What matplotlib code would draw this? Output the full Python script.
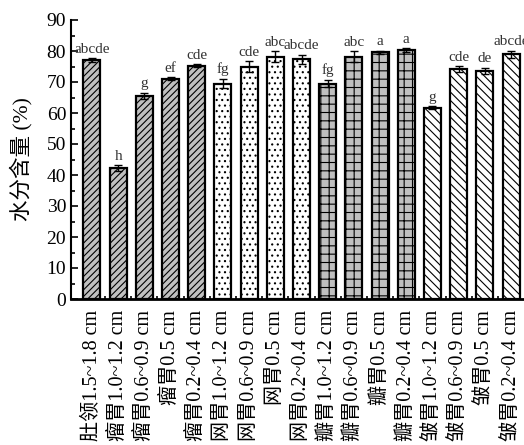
import matplotlib
matplotlib.use('Agg')
import matplotlib.pyplot as plt
import numpy as np

plt.rcParams['font.family'] = ['Liberation Serif', 'Noto Sans CJK SC']
plt.rcParams['hatch.linewidth'] = 0.8

labels = ['肚领1.5~1.8 cm', '瘤胃1.0~1.2 cm', '瘤胃0.6~0.9 cm', '瘤胃0.5 cm', '瘤胃0.2~0.4 cm',
          '网胃1.0~1.2 cm', '网胃0.6~0.9 cm', '网胃0.5 cm', '网胃0.2~0.4 cm',
          '瓣胃1.0~1.2 cm', '瓣胃0.6~0.9 cm', '瓣胃0.5 cm', '瓣胃0.2~0.4 cm',
          '皱胃1.0~1.2 cm', '皱胃0.6~0.9 cm', '皱胃0.5 cm', '皱胃0.2~0.4 cm']
values = [77.1, 42.2, 65.6, 71.1, 75.2,
          69.5, 74.9, 78.1, 77.3,
          69.5, 78.1, 79.6, 80.3,
          61.7, 74.1, 73.6, 78.9]
errors = [0.5, 1.0, 1.0, 0.5, 0.5,
          1.5, 1.8, 1.8, 1.5,
          1.2, 1.8, 0.5, 0.6,
          0.5, 1.0, 1.0, 1.2]
letters = ['abcde', 'h', 'g', 'ef', 'cde',
           'fg', 'cde', 'abc', 'abcde',
           'fg', 'abc', 'a', 'a',
           'g', 'cde', 'de', 'abcde']
group_sizes = [5, 4, 4, 4]
group_fill = ['#c0c0c0', 'white', '#c0c0c0', 'white']
group_hatch = ['/////', '...', '++', '\\\\\\\\']

fills = []
hatches = []
for size, fc, h in zip(group_sizes, group_fill, group_hatch):
    fills += [fc] * size
    hatches += [h] * size

x = np.arange(len(values))

fig = plt.figure(figsize=(5.24, 4.45), dpi=100)
ax = fig.add_axes([71/524, 146/445, (532-71)/524, (299-20)/445])

for i in range(len(values)):
    ax.bar(x[i], values[i], width=0.65, color=fills[i], edgecolor='black',
           linewidth=1.6, hatch=hatches[i], zorder=2)
ax.errorbar(x, values, yerr=errors, fmt='none', ecolor='black', elinewidth=1,
            capsize=3, capthick=1, zorder=3)
for i in range(len(values)):
    ax.text(x[i], values[i] + errors[i] + 0.8, letters[i], ha='center', va='bottom',
            fontsize=11, color='#333333')

ax.set_xlim(-0.8, len(values) - 0.2)
ax.set_ylim(0, 90)
ax.set_yticks(np.arange(0, 91, 10))
ax.set_yticks(np.arange(0, 91, 5), minor=True)
ax.set_xticks(x)
ax.set_xticks(x[:-1] + 0.5, minor=True)
ax.set_xticklabels(labels, rotation=90, fontsize=14.5, va='top', ha='center')
ax.tick_params(axis='y', which='major', direction='in', length=5, width=1.2, labelsize=14)
ax.tick_params(axis='y', which='minor', direction='in', length=3, width=1.2)
ax.tick_params(axis='x', which='major', length=0, pad=8)
ax.tick_params(axis='x', which='minor', direction='in', length=2, width=1.2)
ax.set_ylabel('水分含量 (%)', fontsize=15.5)
ax.yaxis.set_label_coords(-0.083, 0.5)
ax.spines['top'].set_visible(False)
ax.spines['right'].set_visible(False)
ax.spines['left'].set_linewidth(1.5)
ax.spines['bottom'].set_linewidth(2)

fig.savefig('out.png', dpi=100)
